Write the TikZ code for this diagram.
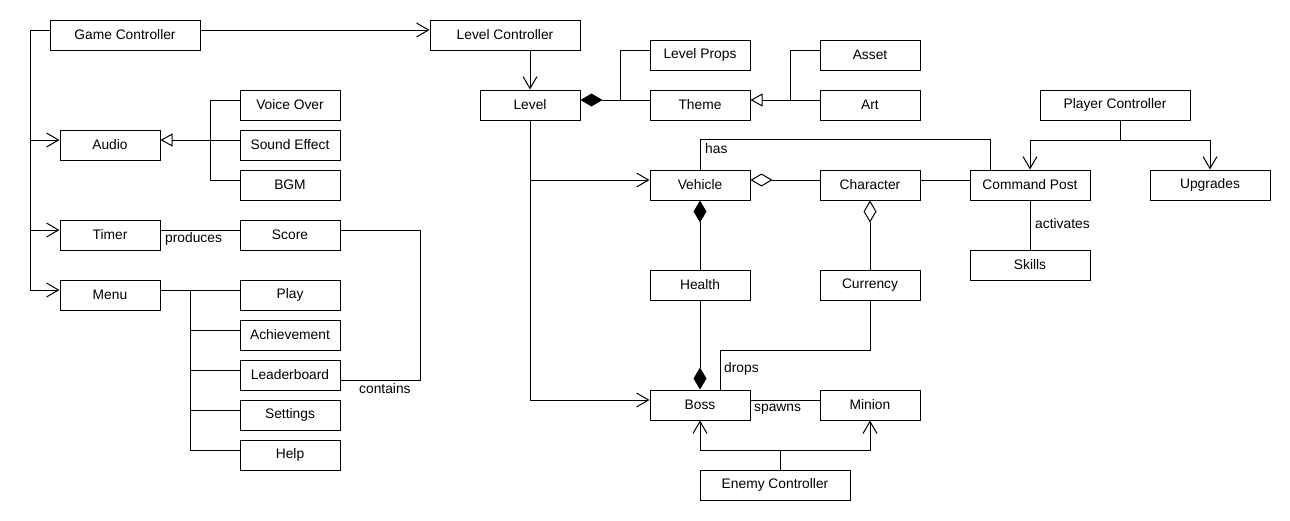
\documentclass[tikz,border=0pt]{standalone}
\usepackage{fontspec}
\setmainfont{Liberation Sans}
\usetikzlibrary{arrows.meta,calc}
\begin{document}
\begin{tikzpicture}[x=1pt,y=-1pt,
  box/.style={draw,line width=1pt,minimum height=30pt,minimum width=100pt,inner sep=0pt,font=\fontsize{13.8}{16}\selectfont},
  wide/.style={minimum width=150pt},
  mid/.style={minimum width=120pt},
  conn/.style={line width=1pt},
  assoc/.style={conn,-{Straight Barb[length=12pt,width=14pt]}},
  gen/.style={conn,-{Triangle[open,length=12pt,width=13pt]}},
  comp/.style={conn,-{Diamond[length=22pt,width=13pt]}},
  aggr/.style={conn,-{Diamond[open,length=22pt,width=13pt]}},
  lbl/.style={font=\fontsize{13.8}{16}\selectfont,inner sep=0pt,anchor=west}]
\useasboundingbox[fill=white] (0,0) rectangle (1290,520);
% left column
\node[box,wide] (gc) at (125,35) {Game Controller};
\node[box] (audio) at (110,145) {Audio};
\node[box] (vo) at (290,105) {Voice Over};
\node[box] (se) at (290,145) {Sound Effect};
\node[box] (bgm) at (290,185) {BGM};
\node[box] (timer) at (110,235) {Timer};
\node[box] (score) at (290,235) {Score};
\node[box] (menu) at (110,295) {Menu};
\node[box] (play) at (290,295) {Play};
\node[box] (ach) at (290,335) {Achievement};
\node[box] (lb) at (290,375) {Leaderboard};
\node[box] (set) at (290,415) {Settings};
\node[box] (help) at (290,455) {Help};
% middle / right
\node[box,wide] (lc) at (505,35) {Level Controller};
\node[box] (level) at (530,105) {Level};
\node[box] (lp) at (700,55) {Level Props};
\node[box] (theme) at (700,105) {Theme};
\node[box] (asset) at (870,55) {Asset};
\node[box] (art) at (870,105) {Art};
\node[box,wide] (pc) at (1115,105) {Player Controller};
\node[box] (vehicle) at (700,185) {Vehicle};
\node[box] (character) at (870,185) {Character};
\node[box,mid] (cp) at (1030,185) {Command Post};
\node[box,mid] (upg) at (1210,185) {Upgrades};
\node[box,mid] (skills) at (1030,265) {Skills};
\node[box] (health) at (700,285) {Health};
\node[box] (currency) at (870,285) {Currency};
\node[box] (boss) at (700,405) {Boss};
\node[box] (minion) at (870,405) {Minion};
\node[box,wide] (ec) at (775,485) {Enemy Controller};

% Game controller connections
\draw[assoc] ([yshift=5pt]gc.east) -- ([yshift=5pt]lc.west);
\coordinate (gcw) at ([yshift=5pt]gc.west);
\coordinate (audw) at ([yshift=5pt]audio.west);
\coordinate (timw) at ([yshift=5pt]timer.west);
\coordinate (menw) at ([yshift=5pt]menu.west);
\coordinate (tk) at (30,30);
\draw[conn] (gcw) -- (tk) -- (tk |- menw);
\draw[assoc] (tk |- audw) -- (audw);
\draw[assoc] (tk |- timw) -- (timw);
\draw[assoc] (tk |- menw) -- (menw);
% Audio generalization
\coordinate (gx) at (210,140);
\draw[gen] (gx) -- ([yshift=5pt]audio.east);
\draw[conn] ([yshift=5pt]vo.west) -| (gx);
\draw[conn] ([yshift=5pt]se.west) -- (gx);
\draw[conn] ([yshift=5pt]bgm.west) -| (gx);
% Timer - Score
\draw[conn] ([yshift=5pt]timer.east) -- ([yshift=5pt]score.west);
\node[lbl] (lprod) at (165,239) {produces};
% Score - Leaderboard
\draw[conn] ([yshift=5pt]score.east) -- ++(80,0) |- ([yshift=-5pt]lb.east);
\node[lbl] (lcont) at (359,389) {contains};
% Menu
\coordinate (mx) at (190,290);
\draw[conn] ([yshift=5pt]menu.east) -- (mx) |- ([yshift=5pt]help.west);
\draw[conn] (mx) -- ([yshift=5pt]play.west);
\foreach \n in {ach,lb,set} {\draw[conn] ([yshift=5pt]\n.west) -| (mx);}
% Level
\draw[assoc] (lc.south -| level.north) -- (level.north);
\coordinate (cx) at (620,100);
\draw[comp] (cx) -- ([yshift=5pt]level.east);
\draw[conn] ([yshift=5pt]lp.west) -| (cx);
\draw[conn] ([yshift=5pt]theme.west) -- (cx);
\coordinate (tx) at (790,100);
\draw[gen] (tx) -- ([yshift=5pt]theme.east);
\draw[conn] ([yshift=5pt]asset.west) -| (tx);
\draw[conn] ([yshift=5pt]art.west) -- (tx);
\coordinate (vehw) at ([yshift=5pt]vehicle.west);
\draw[assoc] (level.south) |- ([yshift=5pt]boss.west);
\draw[assoc] (level.south |- vehw) -- (vehw);
% Vehicle / Character / Command Post
\draw[aggr] ([yshift=5pt]character.west) -- ([yshift=5pt]vehicle.east);
\draw[conn] ([yshift=5pt]character.east) -- ([yshift=5pt]cp.west);
\draw[conn] (vehicle.north) -- ++(0,-30) -| ([xshift=-40pt]cp.north);
\node[lbl] (lhas) at (705,149) {has};
% Player controller
\coordinate (px) at (1120,140);
\draw[conn] ([xshift=5pt]pc.south) -- (px);
\draw[assoc] (px) -| (cp.north);
\draw[assoc] (px) -| (upg.north);
\draw[conn] (cp.south) -- (skills.north);
\node[lbl] (lact) at (1035,224) {activates};
% Health / Currency / Boss
\draw[comp] (health.north) -- (vehicle.south);
\draw[aggr] (currency.north) -- (character.south);
\draw[comp] (health.south) -- (boss.north);
\draw[conn] (currency.south) -- ++(0,50) -| ([xshift=20pt]boss.north);
\node[lbl] (ldrops) at (724,369) {drops};
\draw[conn] ([yshift=5pt]boss.east) -- ([yshift=5pt]minion.west);
\node[lbl] (lspawn) at (754,409) {spawns};
% Enemy controller
\coordinate (ex) at (780,450);
\draw[conn] ([xshift=5pt]ec.north) -- (ex);
\draw[assoc] (ex) -| (boss.south);
\draw[assoc] (ex) -| (minion.south);
\end{tikzpicture}
\end{document}
